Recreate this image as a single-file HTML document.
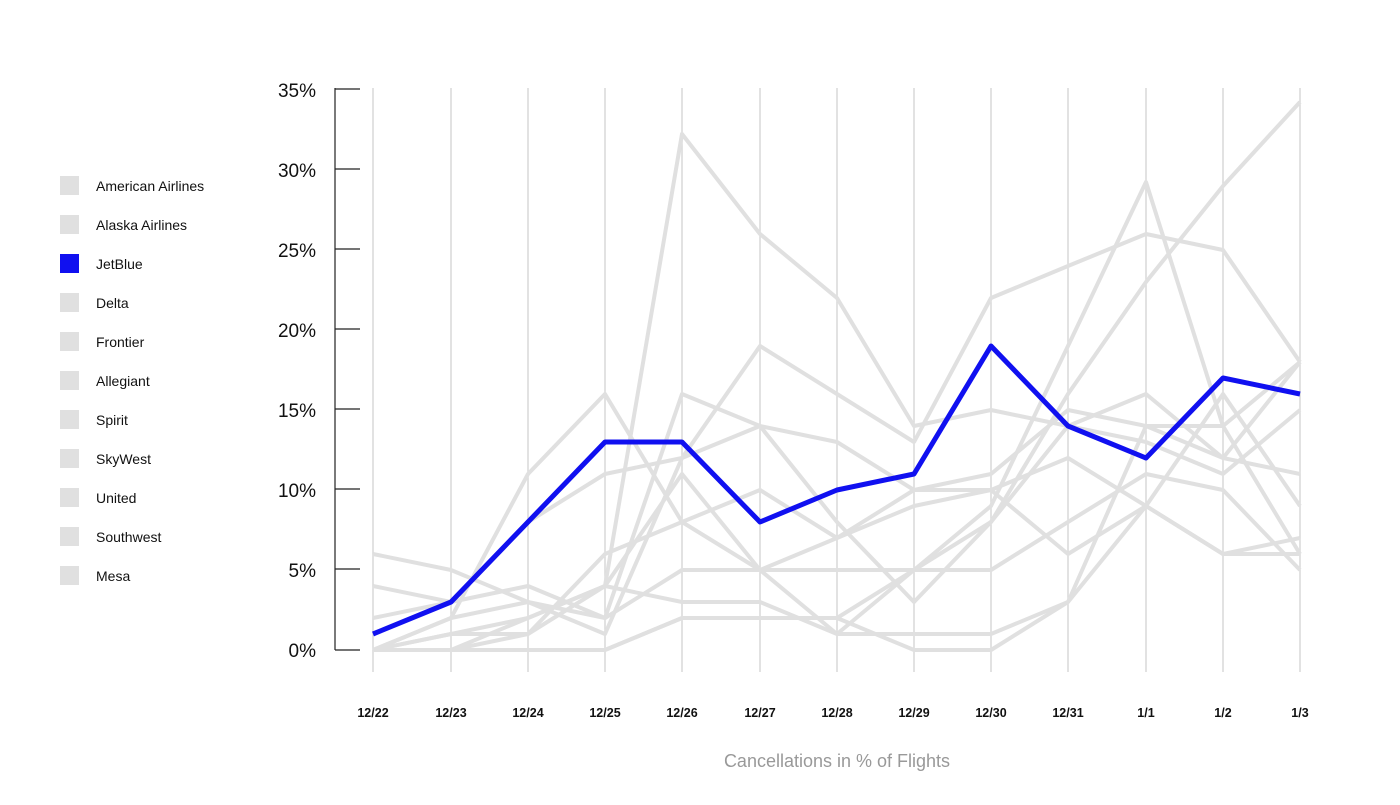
<!DOCTYPE html>
<html><head><meta charset="utf-8"><style>
body{margin:0;background:#fff;width:1400px;height:800px;overflow:hidden;font-family:"Liberation Sans",sans-serif}
</style></head><body>
<svg width="1400" height="800" xmlns="http://www.w3.org/2000/svg" font-family="Liberation Sans, sans-serif">
<g stroke="#d9d9d9" stroke-width="1.5">
<line x1="373" y1="88" x2="373" y2="672"/><line x1="451" y1="88" x2="451" y2="672"/><line x1="528" y1="88" x2="528" y2="672"/><line x1="605" y1="88" x2="605" y2="672"/><line x1="682" y1="88" x2="682" y2="672"/><line x1="760" y1="88" x2="760" y2="672"/><line x1="837" y1="88" x2="837" y2="672"/><line x1="914" y1="88" x2="914" y2="672"/><line x1="991" y1="88" x2="991" y2="672"/><line x1="1068" y1="88" x2="1068" y2="672"/><line x1="1146" y1="88" x2="1146" y2="672"/><line x1="1223" y1="88" x2="1223" y2="672"/><line x1="1300" y1="88" x2="1300" y2="672"/>
</g>
<g stroke="#222" stroke-width="1.2">
<line x1="335" y1="88" x2="335" y2="650"/>
<line x1="335" y1="89" x2="360" y2="89"/><line x1="335" y1="169" x2="360" y2="169"/><line x1="335" y1="249" x2="360" y2="249"/><line x1="335" y1="329" x2="360" y2="329"/><line x1="335" y1="409" x2="360" y2="409"/><line x1="335" y1="489" x2="360" y2="489"/><line x1="335" y1="569" x2="360" y2="569"/><line x1="335" y1="650" x2="360" y2="650"/>
</g>
<g font-size="19" fill="#111" text-anchor="end">
<text x="316" y="97">35%</text><text x="316" y="177">30%</text><text x="316" y="257">25%</text><text x="316" y="337">20%</text><text x="316" y="417">15%</text><text x="316" y="497">10%</text><text x="316" y="577">5%</text><text x="316" y="657">0%</text>
</g>
<g font-size="12.5" fill="#111" text-anchor="middle" font-weight="bold">
<text x="373" y="717">12/22</text><text x="451" y="717">12/23</text><text x="528" y="717">12/24</text><text x="605" y="717">12/25</text><text x="682" y="717">12/26</text><text x="760" y="717">12/27</text><text x="837" y="717">12/28</text><text x="914" y="717">12/29</text><text x="991" y="717">12/30</text><text x="1068" y="717">12/31</text><text x="1146" y="717">1/1</text><text x="1223" y="717">1/2</text><text x="1300" y="717">1/3</text>
</g>
<text x="837" y="767" font-size="18" fill="#999" text-anchor="middle">Cancellations in % of Flights</text>
<g fill="none" stroke="#e0e0e0" stroke-width="4" stroke-linejoin="round">
<polyline points="373,650 451,634 528,618 605,586 682,134 760,234 837,298 914,426 991,410 1068,426 1146,394 1223,458 1300,362"/>
<polyline points="373,650 451,650 528,650 605,650 682,618 760,618 837,618 914,570 991,522 1068,394 1146,282 1223,186 1300,102"/>
<polyline points="373,650 451,618 528,602 605,618 682,570 760,570 837,634 914,570 991,506 1068,346 1146,182 1223,426 1300,362"/>
<polyline points="373,618 451,602 528,522 605,474 682,458 760,346 837,394 914,442 991,298 1068,266 1146,234 1223,250 1300,362"/>
<polyline points="373,554 451,570 528,602 605,634 682,458 760,426 837,442 914,490 991,490 1068,458 1146,506 1223,554 1300,554"/>
<polyline points="373,586 451,602 528,586 605,618 682,394 760,426 837,522 914,602 991,522 1068,426 1146,442 1223,474 1300,410"/>
<polyline points="373,650 451,634 528,634 605,554 682,522 760,490 837,538 914,490 991,474 1068,410 1146,426 1223,458 1300,474"/>
<polyline points="373,650 451,650 528,618 605,586 682,602 760,602 837,634 914,634 991,634 1068,602 1146,506 1223,554 1300,538"/>
<polyline points="373,650 451,618 528,474 605,394 682,522 760,570 837,570 914,570 991,570 1068,522 1146,474 1223,490 1300,570"/>
<polyline points="373,650 451,650 528,634 605,586 682,474 760,570 837,538 914,506 991,490 1068,554 1146,506 1223,394 1300,506"/>
<polyline points="373,650 451,650 528,650 605,650 682,618 760,618 837,618 914,650 991,650 1068,602 1146,426 1223,426 1300,554"/>
</g>
<polyline fill="none" stroke="#1010f0" stroke-width="5" stroke-linejoin="round" points="373,634 451,602 528,522 605,442 682,442 760,522 837,490 914,474 991,346 1068,426 1146,458 1223,378 1300,394"/>
<g fill="#e0e0e0">
<rect x="60" y="176" width="19" height="19"/><rect x="60" y="215" width="19" height="19"/><rect x="60" y="254" width="19" height="19" fill="#1010f0"/><rect x="60" y="293" width="19" height="19"/><rect x="60" y="332" width="19" height="19"/><rect x="60" y="371" width="19" height="19"/><rect x="60" y="410" width="19" height="19"/><rect x="60" y="449" width="19" height="19"/><rect x="60" y="488" width="19" height="19"/><rect x="60" y="527" width="19" height="19"/><rect x="60" y="566" width="19" height="19"/>
</g>
<g font-size="14" fill="#111">
<text x="96" y="191">American Airlines</text><text x="96" y="230">Alaska Airlines</text><text x="96" y="269">JetBlue</text><text x="96" y="308">Delta</text><text x="96" y="347">Frontier</text><text x="96" y="386">Allegiant</text><text x="96" y="425">Spirit</text><text x="96" y="464">SkyWest</text><text x="96" y="503">United</text><text x="96" y="542">Southwest</text><text x="96" y="581">Mesa</text>
</g>
</svg>
</body></html>
